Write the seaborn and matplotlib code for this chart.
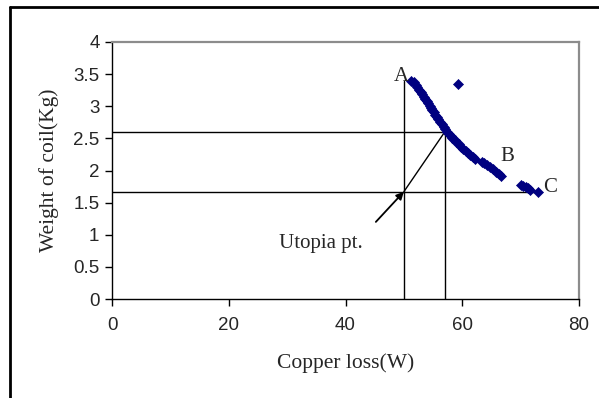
import matplotlib
matplotlib.use("Agg")
import matplotlib.pyplot as plt
from matplotlib.lines import Line2D
import seaborn as sns
import pandas as pd

# Pareto front: copper loss (W) vs. coil weight (kg)
copper_loss = [51.3, 51.7, 52.0, 52.3, 52.6, 52.9, 53.1, 53.4, 53.6, 53.9,
               54.1, 54.4, 54.6, 54.9, 55.1, 55.4, 55.7, 55.9, 56.2, 56.5,
               56.8, 57.1, 57.4, 57.7, 58.0, 58.3, 58.7, 59.0, 59.4, 59.8,
               60.2, 60.6, 61.0, 61.4, 61.8, 62.2,
               63.4, 63.8, 64.3, 64.8, 65.3, 65.8, 66.3, 66.7,
               70.0, 70.4, 70.9, 71.3, 71.6, 73.0,
               59.3]
coil_weight = [3.40, 3.37, 3.33, 3.30, 3.26, 3.22, 3.19, 3.15, 3.12, 3.08,
               3.05, 3.01, 2.98, 2.94, 2.91, 2.87, 2.83, 2.80, 2.76, 2.72,
               2.68, 2.64, 2.60, 2.57, 2.53, 2.50, 2.47, 2.44, 2.41, 2.37,
               2.34, 2.30, 2.27, 2.24, 2.21, 2.18,
               2.14, 2.12, 2.09, 2.05, 2.02, 1.98, 1.95, 1.92,
               1.78, 1.76, 1.74, 1.72, 1.70, 1.66,
               3.34]

# Extreme points A (min loss), C (min weight), utopia point and compromise point
utopia = (50.0, 1.67)
compromise = (57.0, 2.60)
point_a_top = 3.40
point_c_x = 73.0

x_ticks = [0, 20, 40, 60, 80]
y_ticks = [0, 0.5, 1, 1.5, 2, 2.5, 3, 3.5, 4]

df = pd.DataFrame({"loss": copper_loss, "weight": coil_weight})

sns.set_style("white")
plt.rcParams["font.family"] = ["Liberation Sans", "DejaVu Sans"]
plt.rcParams["font.sans-serif"] = ["Liberation Sans", "DejaVu Sans"]

fig = plt.figure(figsize=(5.99, 3.98), dpi=100)
ax = fig.add_axes([112 / 599, 1 - 299 / 398, (579 - 112) / 599, (299 - 42) / 398])

sns.scatterplot(data=df, x="loss", y="weight", marker="D", s=26,
                color="#000080", edgecolor="#000080", linewidth=0.5, ax=ax,
                zorder=3)

lc = "black"
lw = 1.0
# guide lines
ax.plot([utopia[0], utopia[0]], [0, point_a_top], color=lc, lw=lw)
ax.plot([compromise[0], compromise[0]], [0, compromise[1]], color=lc, lw=lw)
ax.plot([0, compromise[0]], [compromise[1], compromise[1]], color=lc, lw=lw)
ax.plot([0, point_c_x], [utopia[1], utopia[1]], color=lc, lw=lw)
ax.plot([utopia[0], compromise[0]], [utopia[1], compromise[1]], color=lc, lw=lw)

serif = ["Liberation Serif", "DejaVu Serif"]
ax.annotate("", xy=utopia, xytext=(45.2, 1.20),
            arrowprops=dict(arrowstyle="-|>", color="black", lw=1.3,
                            mutation_scale=11, shrinkA=0, shrinkB=0))
ax.text(35.7, 0.86, "Utopia pt.", family=serif, fontsize=15,
        ha="center", va="center")
ax.text(49.5, 3.47, "A", family=serif, fontsize=15, ha="center", va="center")
ax.text(67.7, 2.22, "B", family=serif, fontsize=15, ha="center", va="center")
ax.text(75.1, 1.74, "C", family=serif, fontsize=15, ha="center", va="center")

ax.set_xlim(0, 80)
ax.set_ylim(0, 4)
ax.set_xticks(x_ticks)
ax.set_yticks(y_ticks)
ax.set_xticklabels([str(v) for v in x_ticks], family="Liberation Sans")
ax.set_yticklabels([f"{v:g}" for v in y_ticks], family="Liberation Sans")
ax.tick_params(axis="both", direction="out", length=5, width=1, color="black",
               labelsize=13.5, pad=4, bottom=True, left=True)
ax.tick_params(axis="x", pad=8)

for side in ("left", "bottom"):
    ax.spines[side].set_color("black")
    ax.spines[side].set_linewidth(1.0)
for side in ("top", "right"):
    ax.spines[side].set_color("#8c8c8c")
    ax.spines[side].set_linewidth(1.6)

ax.set_xlabel("Copper loss(W)", family=serif, fontsize=15.5, labelpad=14)
ax.set_ylabel("Weight of coil(Kg)", family=serif, fontsize=15.5, labelpad=10)

# outer chart-area frame (top and left edges)
fig.add_artist(Line2D([10 / 599, 1.0], [1 - 7 / 398, 1 - 7 / 398],
                      transform=fig.transFigure, color="black", lw=2))
fig.add_artist(Line2D([10 / 599, 10 / 599], [0, 1 - 7 / 398],
                      transform=fig.transFigure, color="black", lw=2))

fig.savefig("out.png", dpi=100)
